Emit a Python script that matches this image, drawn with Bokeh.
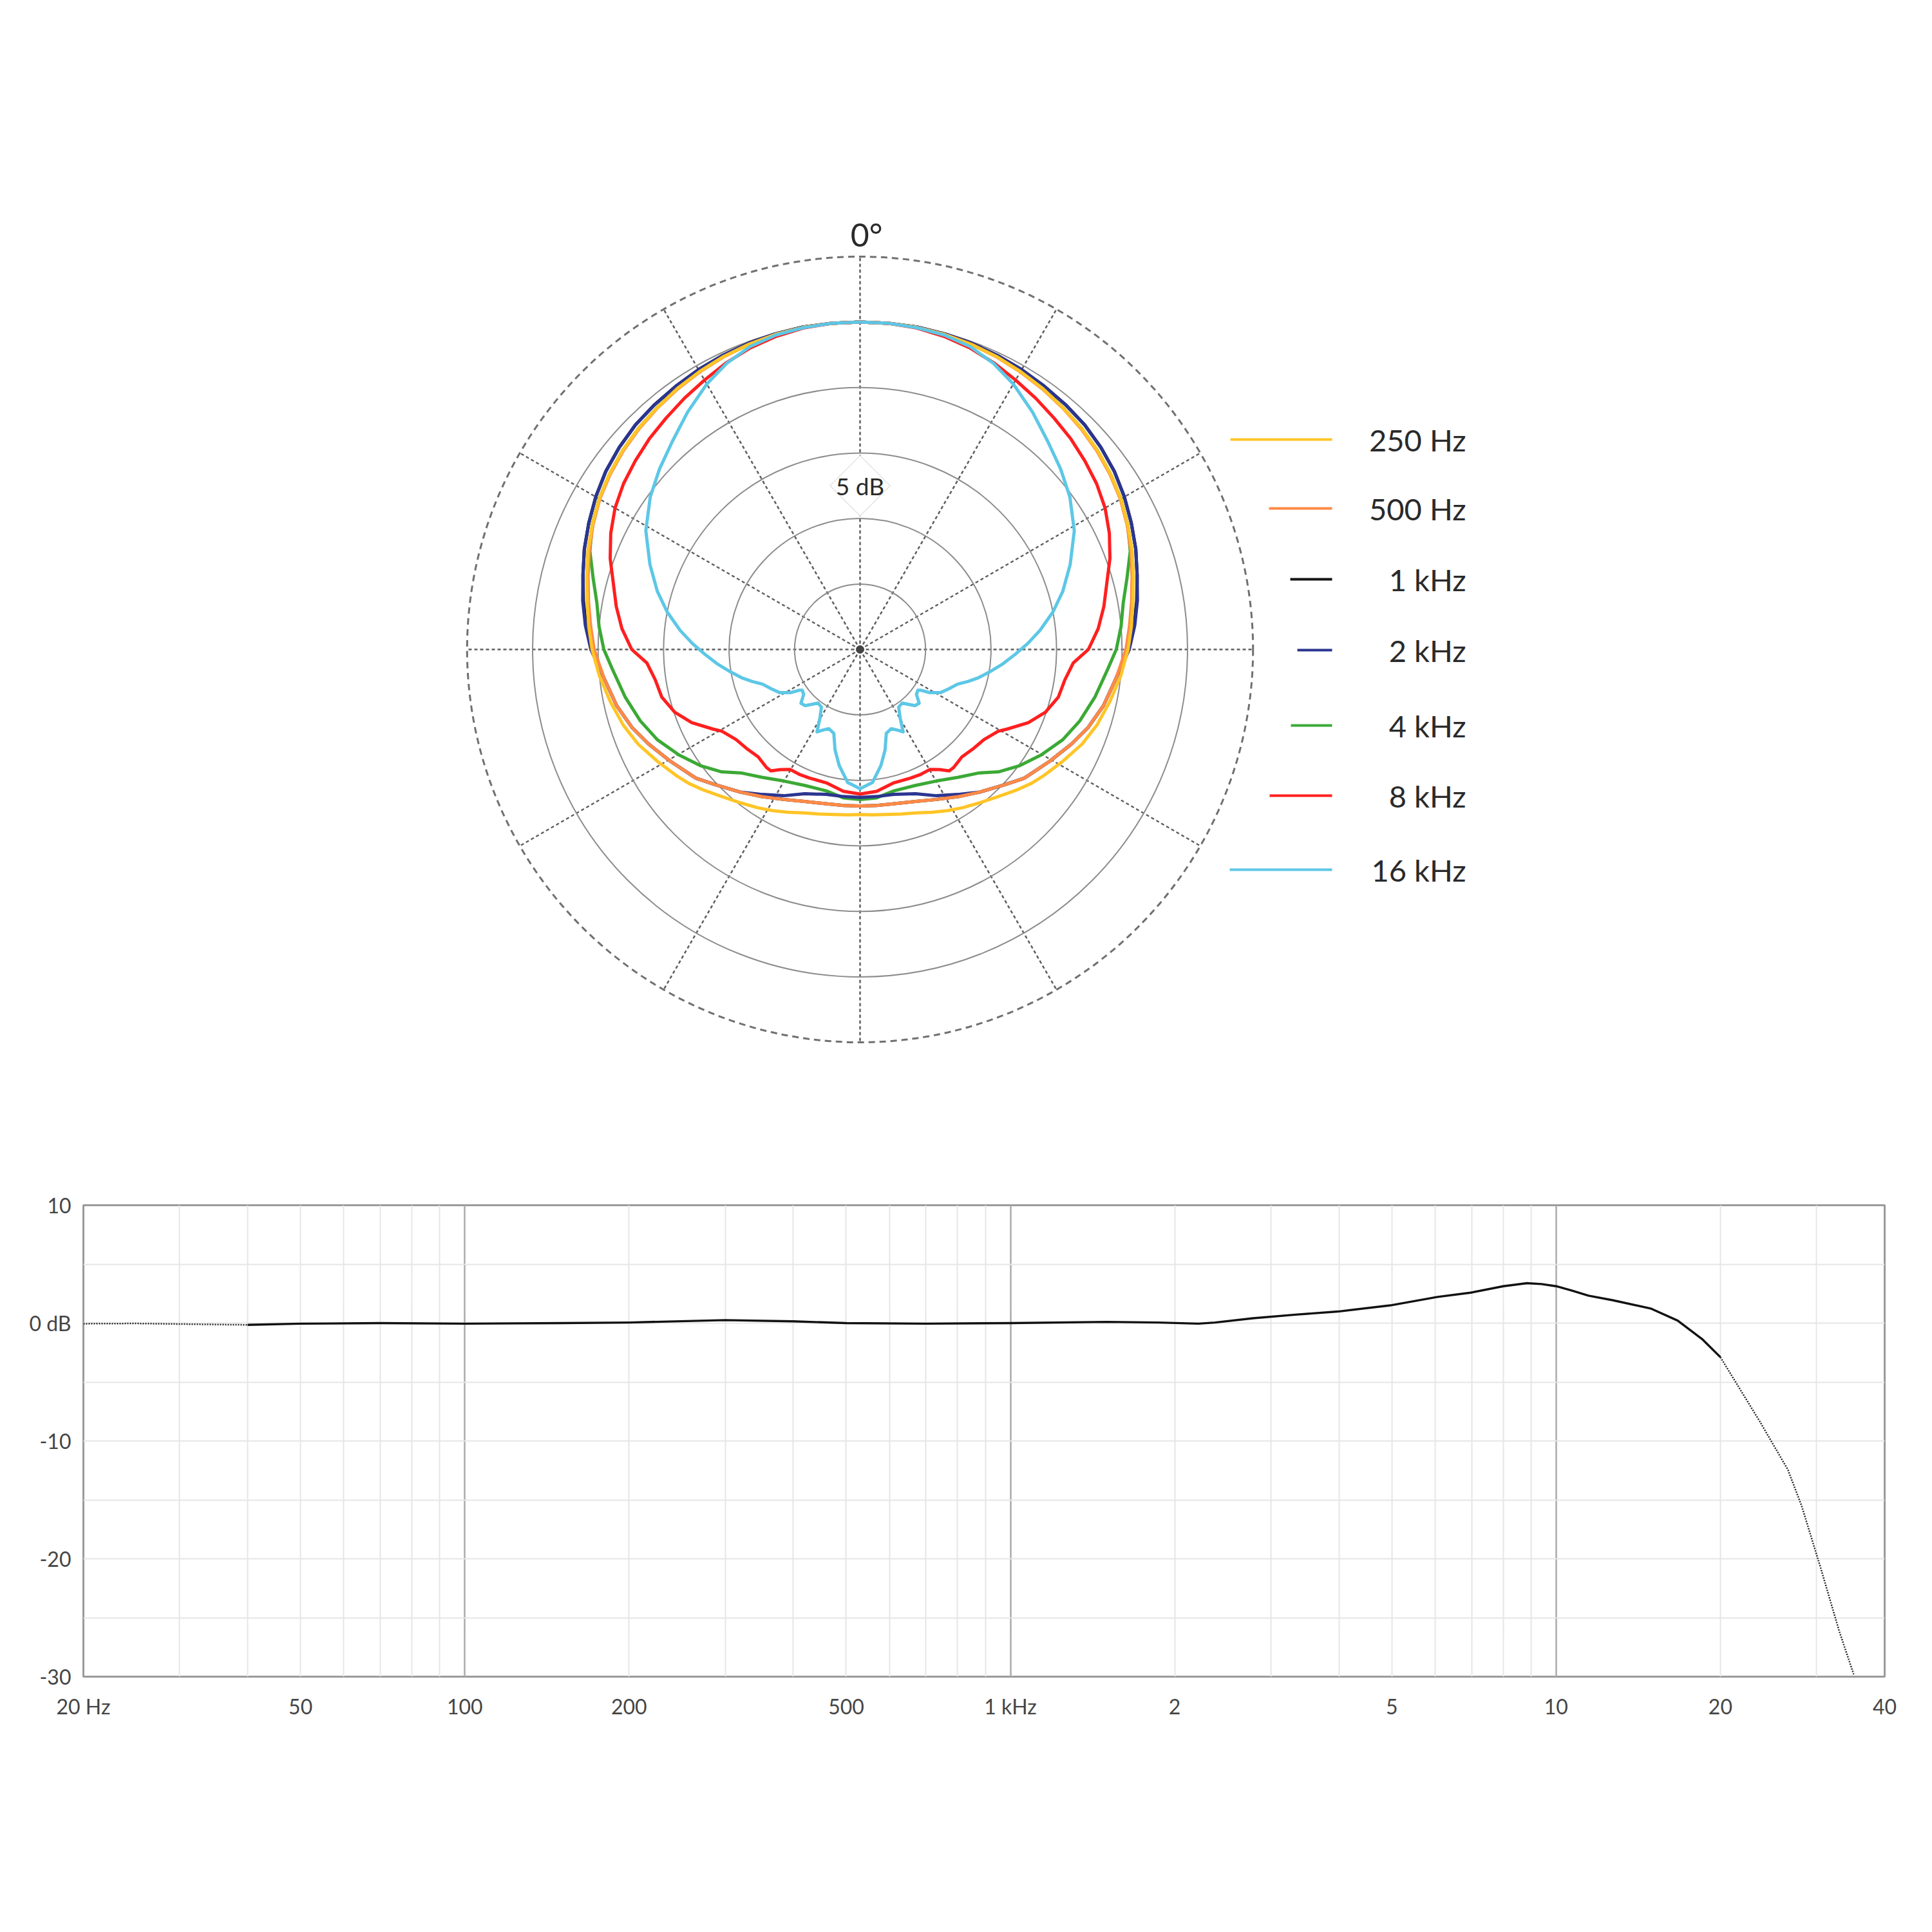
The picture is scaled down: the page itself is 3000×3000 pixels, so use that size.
import math
from bokeh.plotting import figure
from bokeh.models import Range1d, FixedTicker
from bokeh.layouts import column
from bokeh.embed import file_html
from bokeh.resources import INLINE
from bokeh.core.properties import value

# ---------------- polar pattern data (angle: degrees from front, clockwise; level: dB rel. on-axis)
series_names = ["250 Hz", "500 Hz", "1 kHz", "2 kHz", "4 kHz", "8 kHz", "16 kHz"]
series_colors = ["#FFC527", "#FF8A47", "#141414", "#2B3590", "#3BA935", "#FF1F1F", "#5DC7E6"]

ang_250 = [0, 5, 10, 15, 20, 25, 30, 35, 40, 45, 50, 55, 60, 65, 70, 75, 80, 85, 90, 95.8, 101.8,
           107.7, 113.1, 118.9, 124.4, 128, 132, 136, 142, 147, 151.5, 156, 161, 166, 171, 176, 180]
db_250 = [0, 0, -0.03, -0.1, -0.2, -0.33, -0.5, -0.68, -0.9, -1.1, -1.35, -1.65, -2.0, -2.45, -2.9,
          -3.4, -3.85, -4.2, -4.54, -5.0, -5.52, -6.02, -6.58, -7.33, -7.98, -8.4, -8.95, -9.5,
          -10.15, -10.6, -11.0, -11.4, -11.8, -12.05, -12.25, -12.35, -12.4]

ang_500 = [0, 5, 10, 15, 20, 25, 30, 35, 40, 45, 50, 55, 60, 65, 70, 75, 80, 85, 90, 96.3, 103,
           108.8, 114.2, 120.5, 128.1, 133, 140.1, 146.3, 153, 160, 168, 174, 180]
db_500 = [0, 0, -0.03, -0.1, -0.2, -0.35, -0.53, -0.72, -0.93, -1.15, -1.4, -1.7, -2.05, -2.5, -3.0,
          -3.5, -3.95, -4.35, -4.7, -5.32, -5.93, -6.59, -7.33, -8.19, -9.07, -9.87, -10.8, -11.5,
          -12.15, -12.65, -12.95, -13.03, -13.05]

ang_1k = [0, 5, 10, 15, 20, 25, 30, 35, 40, 45, 50, 55, 60, 65, 70, 75, 80, 85, 90, 96.3, 103,
          108.8, 114.2, 120.5, 128.1, 133, 140.1, 146.3, 153, 160, 168, 174, 180]
db_1k = [0, 0, 0, -0.05, -0.12, -0.22, -0.33, -0.47, -0.6, -0.75, -1.0, -1.3, -1.7, -2.15, -2.6,
         -3.1, -3.55, -4.0, -4.6, -5.32, -5.93, -6.59, -7.33, -8.19, -9.07, -9.87, -10.8, -11.5,
         -12.15, -12.65, -12.95, -13.03, -13.05]

ang_2k = [0, 5, 10, 15, 20, 25, 30, 35, 40, 45, 50, 55, 60, 65, 70, 75, 80, 85, 90, 96.3, 103,
          108.8, 114.2, 120.5, 128.1, 133, 140.1, 146, 152.4, 159, 167, 173.5, 180]
db_2k = [0, 0, 0, -0.05, -0.12, -0.22, -0.33, -0.47, -0.6, -0.75, -1.0, -1.3, -1.7, -2.15, -2.6,
         -3.1, -3.5, -3.95, -4.45, -5.32, -5.93, -6.59, -7.33, -8.19, -9.07, -9.87, -10.8, -11.65,
         -12.4, -13.2, -13.65, -13.7, -13.7]

ang_4k = [0, 5, 10, 15, 20, 25, 30, 35, 40, 45, 50, 55, 60, 65, 70, 75, 80, 85, 90, 94.6, 101.5,
          108, 114, 120.2, 126, 131.5, 136, 142.5, 150, 158, 166.6, 173.6, 180]
db_4k = [0, 0, -0.03, -0.1, -0.2, -0.33, -0.5, -0.68, -0.9, -1.1, -1.35, -1.65, -2.0, -2.45, -3.05,
         -3.9, -4.6, -5.0, -5.44, -6.04, -6.71, -7.36, -8.06, -9.0, -9.92, -10.9, -11.9, -12.7,
         -13.4, -13.8, -13.9, -13.6, -13.55]

ang_8k = [0, 5, 10, 15, 20, 25, 30, 35, 40, 45, 50, 55, 60, 65, 70, 75, 80, 85, 90, 93.6, 98.5,
          103.5, 108.7, 113.5, 118.5, 120.6, 126, 131, 136.5, 141.6, 143.7, 146.5, 149.8, 154,
          158.5, 165.8, 173.3, 180]
db_8k = [0, 0, -0.08, -0.25, -0.5, -0.85, -1.25, -1.6, -1.95, -2.25, -2.6, -2.95, -3.4, -4.0, -4.7,
         -5.5, -6.1, -6.75, -7.57, -8.69, -9.2, -9.43, -10.06, -10.99, -12.25, -12.74, -13.3,
         -13.5, -13.7, -13.5, -13.5, -14.0, -14.4, -14.4, -14.45, -14.5, -14.1, -13.96]

ang_16k = [0, 5, 10, 15, 20, 25, 30, 36, 42, 48, 54, 61, 68, 74, 79, 84, 88, 92, 96, 100, 103.4,
           106.5, 109.6, 114, 118.3, 121.8, 123.8, 125.2, 128.5, 132.3, 135.6, 141.9, 146.2, 149.8,
           152.4, 155, 158.4, 162.6, 166, 169.8, 174.7, 180]
db_16k = [0, 0, -0.05, -0.15, -0.4, -0.9, -1.6, -2.6, -3.6, -4.4, -5.2, -6.3, -7.7, -8.9, -10.0,
          -11.2, -12.2, -13.2, -14.1, -15.0, -15.7, -16.4, -17.1, -17.6, -18.04, -18.75, -19.4,
          -19.6, -19.5, -18.9, -19.0, -19.8, -19.7, -18.9, -17.9, -18.2, -18.5, -18.3, -17.1, -16.0,
          -14.8, -14.37]

series_angles = [ang_250, ang_500, ang_1k, ang_2k, ang_4k, ang_8k, ang_16k]
series_levels = [db_250, db_500, db_1k, db_2k, db_4k, db_8k, db_16k]

ring_levels = [-20, -15, -10, -5, 0]     # solid rings (dB)
outer_level = 5                          # dashed outer ring (dB)
center_level = -25                       # level at the pole
spoke_angles = [0, 30, 60, 90, 120, 150, 180, 210, 240, 270, 300, 330]
scale_label = "5 dB"
front_label = "0°"

# ---------------- frequency response data
resp_f_low = [20, 25, 30, 35, 40]
resp_db_low = [-0.05, -0.03, -0.08, -0.12, -0.15]
resp_f_mid = [40, 50, 70, 100, 150, 200, 300, 400, 500, 700, 1000, 1500, 1870, 2210, 2370, 2780,
              3330, 3980, 4960, 6060, 6970, 8000, 8840, 9400, 10000, 10700, 11460, 12700, 14900,
              16700, 18500, 20000]
resp_db_mid = [-0.15, -0.05, 0.0, -0.05, 0.0, 0.05, 0.25, 0.15, 0.0, -0.05, 0.0, 0.1, 0.05, -0.05,
               0.05, 0.41, 0.72, 0.98, 1.5, 2.22, 2.58, 3.13, 3.39, 3.31, 3.13, 2.75, 2.33, 1.94,
               1.24, 0.21, -1.34, -2.89]
resp_f_high = [20000, 21300, 23600, 26600, 28200, 30500, 33000, 35100]
resp_db_high = [-2.89, -4.96, -8.32, -12.46, -15.56, -20.7, -26.1, -29.8]

x_tick_values = [20, 50, 100, 200, 500, 1000, 2000, 5000, 10000, 20000, 40000]
x_tick_labels = ["20 Hz", "50", "100", "200", "500", "1 kHz", "2", "5", "10", "20", "40"]
x_min, x_max = 20, 40000
y_tick_values = [-30, -20, -10, 0, 10]
y_tick_labels = ["-30", "-20", "-10", "0 dB", "10"]
x_major_grid = [100, 1000, 10000]
x_minor_grid = [30, 40, 50, 60, 70, 80, 90, 200, 300, 400, 500, 600, 700, 800, 900,
                2000, 3000, 4000, 5000, 6000, 7000, 8000, 9000, 20000, 30000]
y_grid = [-25, -20, -15, -10, -5, 0, 5]

FONT = "Lato"
TXT = "#2a2a2a"

# ---------------- layout (page pixels)
ORIGIN = 1                     # page offset of the layout's top-left corner
BL, FW, BR = 130 - ORIGIN, 2797, 45
TOP_H = 1788 - ORIGIN
CX, CY = 1336, 1009            # pole position on page
S = 20.34                      # px per dB in polar chart
FX0 = ORIGIN + BL              # page x of frame left

def px_x(X):
    return (X - CX) / S

def px_y(Y):
    return (CY - Y) / S

p1 = figure(frame_width=FW, frame_height=TOP_H,
            x_range=Range1d(px_x(FX0), px_x(FX0 + FW)),
            y_range=Range1d(px_y(ORIGIN + TOP_H), px_y(ORIGIN)),
            x_axis_location=None, y_axis_location=None,
            min_border_left=BL, min_border_right=BR, min_border_top=0, min_border_bottom=0,
            output_backend="svg", toolbar_location=None)
p1.grid.visible = False
p1.outline_line_color = None
p1.background_fill_color = "white"

def rad(level):
    return level - center_level

# spokes
R_out = rad(outer_level)
p1.segment(x0=[0] * len(spoke_angles), y0=[0] * len(spoke_angles),
           x1=[R_out * math.sin(math.radians(a)) for a in spoke_angles],
           y1=[R_out * math.cos(math.radians(a)) for a in spoke_angles],
           line_color="#5e5e5e", line_width=2.5, line_dash="5 4")
# rings
p1.circle(x=[0] * len(ring_levels), y=[0] * len(ring_levels),
          radius=[rad(l) for l in ring_levels],
          fill_color=None, line_color="#8c8c8c", line_width=2)
p1.circle(x=[0], y=[0], radius=[R_out], fill_color=None,
          line_color="#707070", line_width=3, line_dash="10 7")
p1.scatter(x=[0], y=[0], size=12, color="#444444")

# scale label with diamond box
lab_y = rad(-12.5)
p1.scatter(x=[0], y=[lab_y], marker="square", size=66, angle=math.pi / 4,
           fill_color="white", line_color="#e4e4e4", line_width=1.5)
p1.text(x=[0], y=[lab_y], text=[scale_label], text_align="center", text_baseline="middle",
        text_font=value(FONT), text_font_size="37px", text_color=TXT)

# front label
p1.text(x=[px_x(1346)], y=[px_y(364)], text=[front_label], text_align="center",
        text_baseline="middle", text_font=value(FONT), text_font_size="50px", text_color=TXT)

# curves (symmetric pattern: mirror the right half)
draw_order = [2, 4, 3, 1, 0, 5, 6]
for i in draw_order:
    ang = series_angles[i]
    lev = series_levels[i]
    a_full = list(ang) + [360 - a for a in reversed(ang[:-1])]
    l_full = list(lev) + list(reversed(lev[:-1]))
    xs = [rad(l) * math.sin(math.radians(a)) for a, l in zip(a_full, l_full)]
    ys = [rad(l) * math.cos(math.radians(a)) for a, l in zip(a_full, l_full)]
    p1.line(xs, ys, line_color=series_colors[i], line_width=5, line_join="round")

# legend
leg_y = [683, 790, 900, 1010, 1127, 1236, 1351]
leg_x0 = [1911, 1971, 2004, 2015, 2005, 1972, 1910]
leg_x1 = 2069
leg_tx = 2277
p1.segment(x0=[px_x(v) for v in leg_x0], y0=[px_y(v) for v in leg_y],
           x1=[px_x(leg_x1)] * len(leg_y), y1=[px_y(v) for v in leg_y],
           line_color=series_colors, line_width=4)
p1.text(x=[px_x(leg_tx)] * len(leg_y), y=[px_y(v) for v in leg_y], text=series_names,
        text_align="right", text_baseline="middle", text_font=value(FONT),
        text_font_size="47px", text_color=TXT)

# ---------------- frequency response
p2 = figure(x_axis_type="log", x_range=Range1d(x_min, x_max), y_range=Range1d(-30, 10),
            frame_width=FW, frame_height=732,
            min_border_left=BL, min_border_right=BR, min_border_top=84, min_border_bottom=120,
            output_backend="svg", toolbar_location=None)
p2.outline_line_color = "#9a9a9a"
p2.outline_line_width = 3
p2.background_fill_color = "white"

p2.xgrid.ticker = FixedTicker(ticks=x_major_grid, minor_ticks=x_minor_grid)
p2.xgrid.grid_line_color = "#ababab"
p2.xgrid.grid_line_width = 2.5
p2.xgrid.minor_grid_line_color = "#e6e6e6"
p2.xgrid.minor_grid_line_width = 2
p2.ygrid.ticker = FixedTicker(ticks=y_grid)
p2.ygrid.grid_line_color = "#e6e6e6"
p2.ygrid.grid_line_width = 2

p2.xaxis.ticker = FixedTicker(ticks=x_tick_values)
p2.xaxis.major_label_overrides = {v: t for v, t in zip(x_tick_values, x_tick_labels)}
p2.yaxis.ticker = FixedTicker(ticks=y_tick_values)
p2.yaxis.major_label_overrides = {v: t for v, t in zip(y_tick_values, y_tick_labels)}
for ax in (p2.xaxis[0], p2.yaxis[0]):
    ax.axis_line_color = None
    ax.major_tick_line_color = None
    ax.minor_tick_line_color = None
    ax.major_tick_out = 0
    ax.major_tick_in = 0
    ax.minor_tick_out = 0
    ax.major_label_text_font = FONT
    ax.major_label_text_font_size = "32px"
    ax.major_label_text_color = "#454545"
p2.xaxis.major_label_standoff = 26
p2.yaxis.major_label_standoff = 19

p2.line(resp_f_low, resp_db_low, line_color="#222222", line_width=2.5, line_dash="2 2")
p2.line(resp_f_mid, resp_db_mid, line_color="#111111", line_width=3.4, line_join="round")
p2.line(resp_f_high, resp_db_high, line_color="#222222", line_width=2.5, line_dash="2 2")

layout = column(p1, p2)
open("out.html", "w").write(file_html(layout, INLINE))
